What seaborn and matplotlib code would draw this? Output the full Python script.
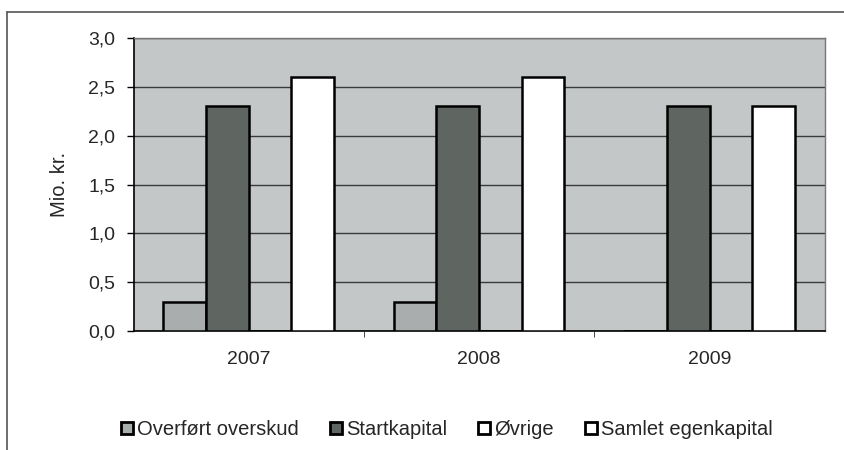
from matplotlib import pyplot as plt
from matplotlib.lines import Line2D
import pandas as pd
import seaborn as sns

years = ['2007', '2008', '2009']
series = ['Overført overskud', 'Startkapital', 'Øvrige', 'Samlet egenkapital']
overfort = [0.3, 0.3, 0.0]
startkapital = [2.3, 2.3, 2.3]
ovrige = [0.0, 0.0, 0.0]
samlet = [2.6, 2.6, 2.3]
yticks = [0.0, 0.5, 1.0, 1.5, 2.0, 2.5, 3.0]

rows = []
for name, vals in zip(series, [overfort, startkapital, ovrige, samlet]):
    for yr, v in zip(years, vals):
        rows.append({'Year': yr, 'Serie': name, 'Value': v})
data = pd.DataFrame(rows)

sns.set_style('white')
plt.rcParams['font.family'] = ['Liberation Sans', 'DejaVu Sans']

palette = {'Overført overskud': '#a9aeae', 'Startkapital': '#5e6661',
           'Øvrige': '#ffffff', 'Samlet egenkapital': '#ffffff'}

fig = plt.figure(figsize=(8.45, 4.5), dpi=100)
ax = fig.add_axes([0.158, 0.264, 0.818, 0.652])
ax.set_facecolor('#c4c7c7')

sns.barplot(data=data, x='Year', y='Value', hue='Serie', hue_order=series,
            palette=palette, width=0.74, edgecolor='black', linewidth=1.8,
            ax=ax, legend=False, zorder=3)

ax.set_ylim(0, 3.0)
ax.set_yticks(yticks)
ax.set_yticklabels([f'{t:.1f}'.replace('.', ',') for t in yticks], fontsize=14)
ax.yaxis.grid(True, color='#3a3a3a', linewidth=1.0, zorder=0)
ax.set_axisbelow(True)
ax.set_xlabel('')
ax.set_ylabel('Mio. kr.', fontsize=14.5, labelpad=14)
ax.tick_params(axis='x', labelsize=14, length=0, pad=14)
ax.tick_params(axis='y', direction='out', length=5, width=1, color='black', left=True, pad=8)
ax.set_xticks([0.5, 1.5], minor=True)
ax.tick_params(axis='x', which='minor', direction='out', length=4, bottom=True)
for side in ['top', 'right']:
    ax.spines[side].set_color('#777777')
    ax.spines[side].set_linewidth(1)
for side in ['left', 'bottom']:
    ax.spines[side].set_color('black')
    ax.spines[side].set_linewidth(1.2)

handles = [Line2D([0], [0], marker='s', linestyle='', markersize=8.5,
                  markerfacecolor=palette[s], markeredgecolor='black',
                  markeredgewidth=2) for s in series]
fig.legend(handles, series, loc='center', bbox_to_anchor=(0.528, 0.045), ncol=4,
           frameon=False, fontsize=14.5, handletextpad=0.15, columnspacing=1.5,
           handlelength=0.7)

# scanned frame around the chart
fig.add_artist(Line2D([0.008, 0.008], [0.0, 0.973], transform=fig.transFigure,
                      color='#555555', linewidth=1.2))
fig.add_artist(Line2D([0.008, 1.0], [0.973, 0.973], transform=fig.transFigure,
                      color='#555555', linewidth=1.2))

plt.savefig('out.png', dpi=100)
